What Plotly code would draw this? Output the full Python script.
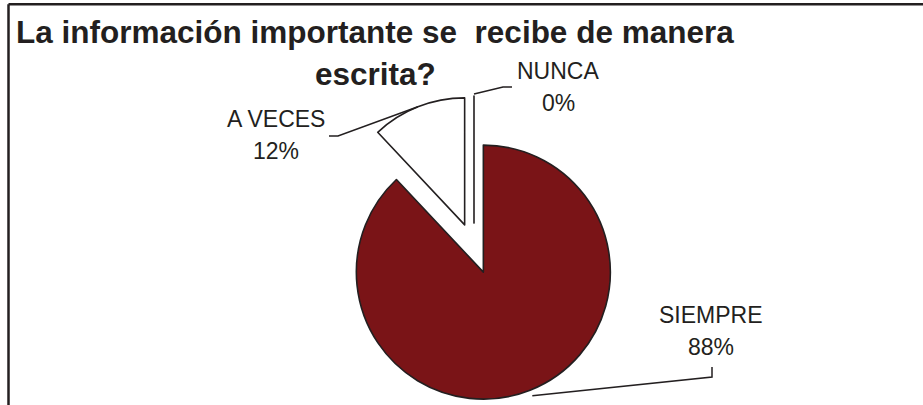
import math
import plotly.graph_objects as go

# ---- data ----
categories = ["SIEMPRE", "A VECES", "NUNCA"]
values = [88, 12, 0]
title_lines = ["La información importante se  recibe de manera", "escrita?"]

# ---- styling ----
slice_colors = ["#7a1417", "#ffffff", "#ffffff"]
edge_color = "#231f20"
font_family = "Liberation Sans, Arial, sans-serif"

W, H = 923, 405


def px(x):
    return x / W


def py(y):
    return 1 - y / H


# pie geometry (pixels)
cx, cy = 474.0, 248.5
pull = 0.2
r = 127.0
R_out = r * (1 + pull)

fig = go.Figure(
    go.Pie(
        labels=categories,
        values=values,
        sort=False,
        direction="clockwise",
        rotation=0,
        pull=[pull] * len(values),
        marker=dict(colors=slice_colors, line=dict(color=edge_color, width=1.6)),
        textinfo="none",
        hoverinfo="skip",
        showlegend=False,
        domain=dict(
            x=[px(cx - R_out), px(cx + R_out)],
            y=[py(cy + R_out), py(cy - R_out)],
        ),
    )
)

# label layout positions: (center x, mid of line1, mid of line2), elbow points
label_pos = {
    "SIEMPRE": (711, 315, 347),
    "A VECES": (276, 119, 151),
    "NUNCA": (558, 71, 103),
}
elbows = {
    "SIEMPRE": [(712, 377), (712, 367)],
    "A VECES": [(338, 136), (329, 136)],
    "NUNCA": [(503, 87), (512, 87)],
}
edge_extra = {"SIEMPRE": 6, "A VECES": 0, "NUNCA": 2}

total = sum(values)
annotations = []
shapes = []
cum = 0.0
for cat, v in zip(categories, values):
    mid = math.radians((cum + v / 2) / total * 360)
    cum += v
    pcx = cx + pull * r * math.sin(mid)
    pcy = cy - pull * r * math.cos(mid)
    rr = r + edge_extra[cat]
    ex = pcx + rr * math.sin(mid)
    ey = pcy - rr * math.cos(mid)
    pts = [(ex, ey)] + elbows[cat]
    path = "M " + " L ".join(f"{px(x):.5f},{py(y):.5f}" for x, y in pts)
    shapes.append(
        dict(type="path", path=path, xref="paper", yref="paper",
             line=dict(color=edge_color, width=1.5))
    )
    lx, l1, l2 = label_pos[cat]
    pct = f"{round(v / total * 100)}%"
    for txt, yy in ((cat, l1), (pct, l2)):
        annotations.append(
            dict(text=txt, x=px(lx), y=py(yy), xref="paper", yref="paper",
                 xanchor="center", yanchor="middle", showarrow=False,
                 font=dict(family=font_family, size=23, color=edge_color))
        )

# title (two lines)
for txt, yy in zip(title_lines, (32.2, 74.2)):
    annotations.append(
        dict(text=f"<b>{txt}</b>", x=px(375), y=py(yy), xref="paper", yref="paper",
             xanchor="center", yanchor="middle", showarrow=False,
             font=dict(family=font_family, size=31.5, color=edge_color))
    )

# chart-area border (top and left edges visible)
shapes.append(dict(type="line", xref="paper", yref="paper",
                   x0=px(8.5), y0=py(4.3), x1=1.0, y1=py(4.3),
                   line=dict(color=edge_color, width=2.5)))
shapes.append(dict(type="line", xref="paper", yref="paper",
                   x0=px(8.5), y0=py(4.3), x1=px(8.5), y1=0.0,
                   line=dict(color=edge_color, width=2.5)))

fig.update_layout(
    width=W,
    height=H,
    margin=dict(l=0, r=0, t=0, b=0),
    paper_bgcolor="white",
    plot_bgcolor="white",
    annotations=annotations,
    shapes=shapes,
    showlegend=False,
)

fig.write_html("out.html")
